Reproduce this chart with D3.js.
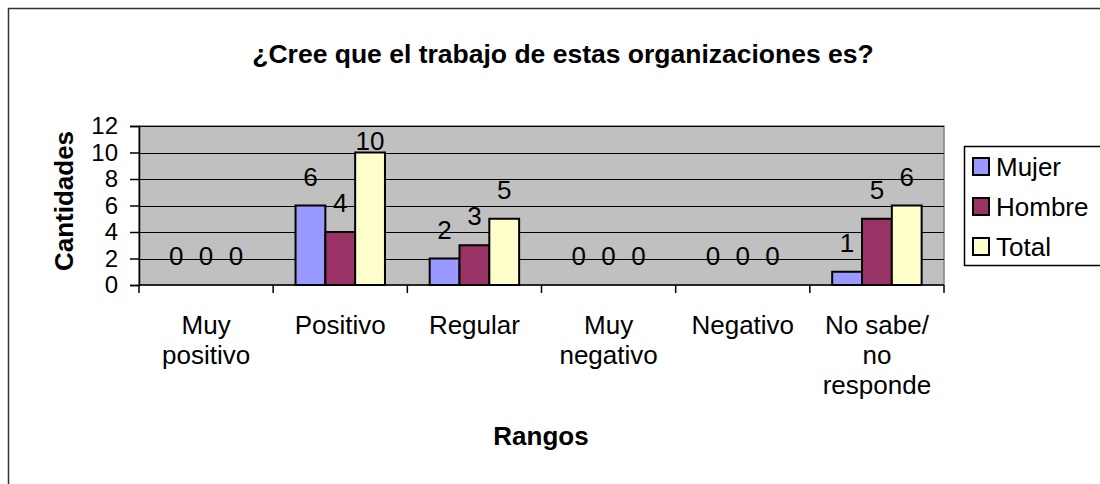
<!DOCTYPE html>
<html><head><meta charset="utf-8">
<script src="https://cdn.jsdelivr.net/npm/d3@7"></script>
<style>body{margin:0;background:#fff}svg{display:block}text{font-family:"Liberation Sans",Arial,sans-serif}</style>
</head><body><svg id="c" width="1100" height="484"></svg>
<script>
const categories = [["Muy","positivo"],["Positivo"],["Regular"],["Muy","negativo"],["Negativo"],["No sabe/","no","responde"]];
const seriesNames = ["Mujer","Hombre","Total"];
const mujer = [0,6,2,0,0,1];
const hombre = [0,4,3,0,0,5];
const total = [0,10,5,0,0,6];
const yTicks = [0,2,4,6,8,10,12];
const colors = ["#9999FF","#993366","#FFFFCC"];
const title = "¿Cree que el trabajo de estas organizaciones es?";
const xTitle = "Rangos", yTitle = "Cantidades";

const seriesVals = [mujer, hombre, total];
const svg = d3.select("#c");
// outer frame
svg.append("rect").attr("x",8.5).attr("y",8.5).attr("width",1200).attr("height",600)
  .attr("fill","#fff").attr("stroke","#333").attr("stroke-width",1.5);

const L=139, R=944, T=126, B=285;
const catIdx = categories.map((d,i)=>i);
const x0 = d3.scaleBand().domain(catIdx).range([L,R]).padding(0);
const bw = x0.bandwidth();
const gap = bw/(3+1.5)*1.5;
const x1 = d3.scaleBand().domain(seriesNames).range([gap/2, bw-gap/2]).padding(0);
const y = d3.scaleLinear().domain([0,12]).range([B,T]);

// plot bg
svg.append("rect").attr("x",L).attr("y",T).attr("width",R-L).attr("height",B-T)
  .attr("fill","#C0C0C0").attr("stroke","#808080").attr("stroke-width",1.5);
// gridlines
svg.append("g").selectAll("line").data(yTicks.filter(d=>d>0)).join("line")
  .attr("x1",L).attr("x2",R).attr("y1",d=>Math.round(y(d))+0.5).attr("y2",d=>Math.round(y(d))+0.5)
  .attr("stroke","#000").attr("stroke-width",1);

// bars
const g = svg.append("g");
seriesNames.forEach((s,si)=>{
  g.selectAll(null).data(seriesVals[si]).join("rect")
    .attr("x",(d,i)=>x0(i)+x1(s)).attr("width",x1.bandwidth())
    .attr("y",d=>y(d)).attr("height",d=>B-y(d))
    .attr("fill",colors[si]).attr("stroke","#000").attr("stroke-width",d=>d>0?2:0);
  g.selectAll(null).data(seriesVals[si]).join("text")
    .attr("x",(d,i)=>x0(i)+x1(s)+x1.bandwidth()/2).attr("y",d=>Math.max(y(d)-20, T+24))
    .attr("text-anchor","middle").attr("font-size",26).text(d=>d);
});

// y axis
const yAxis = d3.axisLeft(y).tickValues(yTicks).tickSize(9).tickPadding(12);
const ya = svg.append("g").attr("transform",`translate(${L},0)`).call(yAxis);
ya.select(".domain").attr("stroke","#000").attr("stroke-width",1.5);
ya.selectAll(".tick line").attr("stroke","#000").attr("stroke-width",1.5);
ya.selectAll(".tick text").attr("font-size",24).attr("fill","#000").attr("font-family",null);

// x axis
const xa = svg.append("g").attr("transform",`translate(0,${B})`);
xa.append("line").attr("x1",L).attr("x2",R).attr("y1",0).attr("y2",0).attr("stroke","#000").attr("stroke-width",1.5);
xa.selectAll("line.t").data(d3.range(categories.length+1)).join("line").attr("class","t")
  .attr("x1",i=>L+i*bw).attr("x2",i=>L+i*bw).attr("y1",0).attr("y2",8).attr("stroke","#000").attr("stroke-width",1.5);
const cl = xa.selectAll("text.c").data(categories).join("text").attr("class","c")
  .attr("text-anchor","middle").attr("font-size",26)
  .attr("transform",(d,i)=>`translate(${x0(i)+bw/2},0)`);
cl.selectAll("tspan").data(d=>d).join("tspan").attr("x",0).attr("y",(d,i)=>49+i*30).text(d=>d);

// titles
svg.append("text").attr("x",563).attr("y",63).attr("text-anchor","middle")
  .attr("font-size",26.5).attr("font-weight","bold").text(title);
svg.append("text").attr("x",541).attr("y",445).attr("text-anchor","middle")
  .attr("font-size",26).attr("font-weight","bold").text(xTitle);
svg.append("text").attr("transform","translate(73,201) rotate(-90)").attr("text-anchor","middle")
  .attr("font-size",26).attr("font-weight","bold").text(yTitle);

// legend
const lg = svg.append("g");
lg.append("rect").attr("x",964.5).attr("y",146.5).attr("width",200).attr("height",119)
  .attr("fill","#fff").attr("stroke","#000").attr("stroke-width",1.5);
seriesNames.forEach((s,i)=>{
  lg.append("rect").attr("x",973).attr("y",158+i*40).attr("width",16).attr("height",17)
    .attr("fill",colors[i]).attr("stroke","#000").attr("stroke-width",2);
  lg.append("text").attr("x",996).attr("y",176+i*40).attr("font-size",26).text(s);
});
</script></body></html>
